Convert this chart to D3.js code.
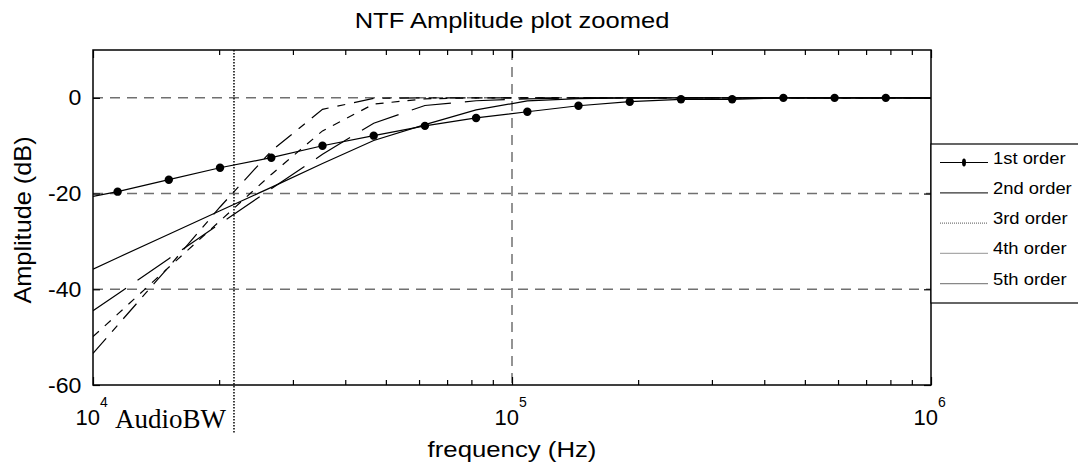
<!DOCTYPE html>
<html>
<head>
<meta charset="utf-8">
<script src="https://cdn.jsdelivr.net/npm/d3@7"></script>
<style>
body{margin:0;background:#fff;}
svg{display:block;font-family:"Liberation Sans",Arial,sans-serif;}
</style>
</head>
<body>
<div id="chart"></div>
<script>
(function(){

// frequency grid (Hz) - first and last are the plot edges
const freqs = [10000, 11450, 15170, 20100, 26640, 35300, 46770, 61970, 82100,
  108800, 144100, 191000, 253100, 335300, 444300, 588700, 780000, 1000000];

// NTF amplitude (dB) per order
const order1 = [-20.6, -19.6, -17.1, -14.6, -12.5, -10.0, -7.9, -5.85, -4.2,
  -2.9, -1.65, -0.8, -0.3, -0.3, 0, 0, 0, 0];
const order2 = [-35.8, -33.4, -28.5, -23.6, -18.7, -13.7, -8.9, -5.6, -2.5,
  -0.65, -0.15, 0, 0, 0, 0, 0, 0, 0];
const order3 = [-44.5, -41.0, -33.6, -26.3, -19.0, -11.8, -5.3, -1.6, -0.6,
  -0.2, 0, 0, 0, 0, 0, 0, 0, 0];
const order4 = [-49.9, -45.2, -35.4, -25.7, -16.0, -6.9, -1.3, -0.2, 0,
  0, 0, 0, 0, 0, 0, 0, 0, 0];
const order5 = [-53.4, -47.5, -35.3, -22.8, -11.1, -2.4, -0.1, 0, 0,
  0, 0, 0, 0, 0, 0, 0, 0, 0];

const seriesNames = ["1st order","2nd order","3rd order","4th order","5th order"];
const yTicks = [0, -20, -40, -60];
const yGrid = [0, -20, -40];
const xMajor = [1e4, 1e5, 1e6];
const xExp = [4, 5, 6];
const audioBW = 21700;

const width = 1078;
const height = 465;

const svg = d3.select("#chart")
.append("svg")
.attr("width", width)
.attr("height", height);

const x = d3.scaleLog().domain([1e4, 1e6]).range([93, 931]);
const y = d3.scaleLinear().domain([-60, 10]).range([385, 50]);

// the original export has slightly wide lettering
const wide = (px, py, sx) => `translate(${px},${py}) scale(${sx},1)`;

// -------------------
// GRID
// -------------------

svg.selectAll("line.hgrid")
.data(yGrid)
.enter()
.append("line")
.attr("class","hgrid")
.attr("x1", x(1e4)).attr("x2", x(1e6))
.attr("y1", d => y(d)).attr("y2", d => y(d))
.attr("stroke","#707070")
.attr("stroke-width",1.5)
.attr("stroke-dasharray","10,7");

svg.append("line")
.attr("x1", x(1e5)).attr("x2", x(1e5))
.attr("y1", y(10)).attr("y2", y(-60))
.attr("stroke","#707070")
.attr("stroke-width",1.5)
.attr("stroke-dasharray","10,7");

// -------------------
// TICKS
// -------------------

const minor = x.ticks().filter(d => !xMajor.includes(d));

svg.append("g")
.attr("transform",`translate(0,${y(-60)})`)
.call(d3.axisBottom(x).tickValues(minor).tickSize(-5).tickFormat(""))
.call(g => g.select(".domain").remove());
svg.append("g")
.attr("transform",`translate(0,${y(10)})`)
.call(d3.axisTop(x).tickValues(minor).tickSize(-5).tickFormat(""))
.call(g => g.select(".domain").remove());
svg.append("g")
.attr("transform",`translate(0,${y(-60)})`)
.call(d3.axisBottom(x).tickValues(xMajor).tickSize(-8).tickFormat(""))
.call(g => g.select(".domain").remove());
svg.append("g")
.attr("transform",`translate(0,${y(10)})`)
.call(d3.axisTop(x).tickValues(xMajor).tickSize(-8).tickFormat(""))
.call(g => g.select(".domain").remove());

const yAxis = svg.append("g")
.attr("transform",`translate(${x(1e4)},0)`)
.call(d3.axisLeft(y).tickValues(yTicks).tickSize(-7).tickPadding(11).tickFormat(d => String(d)))
.call(g => g.select(".domain").remove());
yAxis.selectAll("text")
.attr("font-size","22px")
.attr("font-family","'Liberation Sans',Arial,sans-serif")
.attr("fill","#000")
.attr("transform","scale(1.05,1)");

svg.append("g")
.attr("transform",`translate(${x(1e6)},0)`)
.call(d3.axisRight(y).tickValues(yTicks).tickSize(-7).tickFormat(""))
.call(g => g.select(".domain").remove());

svg.selectAll(".tick line").attr("stroke","#000").attr("stroke-width",1.2);

// x tick labels: 10 with superscript exponent
const xl = svg.selectAll("g.xlab")
.data(xMajor)
.enter()
.append("g")
.attr("class","xlab")
.attr("transform",(d)=>`translate(${x(d)},425)`);
xl.append("text")
.attr("x",7)
.attr("text-anchor","end")
.attr("font-size","22px")
.text("10");
xl.append("text")
.attr("x",7)
.attr("y",-18)
.attr("font-size","14px")
.text((d,i)=>xExp[i]);

// -------------------
// LINES
// -------------------

svg.append("clipPath").attr("id","plotclip")
.append("rect")
.attr("x", x(1e4)).attr("y", y(10))
.attr("width", x(1e6)-x(1e4)).attr("height", y(-60)-y(10));

const series = [order1, order2, order3, order4, order5];
const dashes = [null, null, "40,14", "8,8", "20,9,8,9"];

const line = d3.line()
.x((d,i) => x(freqs[i]))
.y(d => y(d));

const plot = svg.append("g").attr("clip-path","url(#plotclip)");

plot.selectAll("path.ntf")
.data(series)
.enter()
.append("path")
.attr("class","ntf")
.attr("d", d => line(d))
.attr("fill","none")
.attr("stroke","#000")
.attr("stroke-width",1.2)
.attr("stroke-dasharray",(d,i)=>dashes[i]);

// 1st order markers (not at the plot edges)
plot.selectAll("circle.m1")
.data(order1.slice(1,-1))
.enter()
.append("circle")
.attr("class","m1")
.attr("cx",(d,i)=>x(freqs[i+1]))
.attr("cy",d=>y(d))
.attr("r",4.2)
.attr("fill","#000");

// AudioBW marker
svg.append("line")
.attr("x1", x(audioBW)).attr("x2", x(audioBW))
.attr("y1", y(10)).attr("y2", 434)
.attr("stroke","#000")
.attr("stroke-width",1.5)
.attr("stroke-dasharray","1.5,1.5");

svg.append("text")
.attr("x",115)
.attr("y",428)
.attr("font-family","'Liberation Serif','Times New Roman',serif")
.attr("font-size","27px")
.text("AudioBW");

// frame
svg.append("rect")
.attr("x", x(1e4)).attr("y", y(10))
.attr("width", x(1e6)-x(1e4)).attr("height", y(-60)-y(10))
.attr("fill","none")
.attr("stroke","#000")
.attr("stroke-width",1.5);

// -------------------
// TITLE & LABELS
// -------------------

svg.append("text")
.attr("transform", wide(512, 28, 1.16))
.attr("text-anchor","middle")
.attr("font-size","22px")
.text("NTF Amplitude plot zoomed");

svg.append("text")
.attr("transform", wide(512, 457, 1.12))
.attr("text-anchor","middle")
.attr("font-size","23px")
.text("frequency (Hz)");

svg.append("text")
.attr("transform","translate(31,220) rotate(-90) scale(1.1,1)")
.attr("text-anchor","middle")
.attr("font-size","23px")
.text("Amplitude (dB)");

// -------------------
// LEGEND
// -------------------

const legend = svg.append("g");

legend.append("rect")
.attr("x",931).attr("y",144)
.attr("width",200).attr("height",159)
.attr("fill","#fff")
.attr("stroke","#000")
.attr("stroke-width",1.2);

const legColors = ["#000","#333","#777","#aaa","#888"];
const legDash = [null, null, "1,1", null, null];

const rows = legend.selectAll("g.row")
.data(seriesNames)
.enter()
.append("g")
.attr("class","row")
.attr("transform",(d,i)=>`translate(940,${162.5 + i*30.3})`);

rows.append("line")
.attr("x1",0).attr("x2",48)
.attr("stroke",(d,i)=>legColors[i])
.attr("stroke-width",1.2)
.attr("stroke-dasharray",(d,i)=>legDash[i]);

rows.append("text")
.attr("transform", wide(53, 1, 1.15))
.attr("font-size","16px")
.text(d=>d);

rows.filter((d,i)=>i===0)
.append("ellipse")
.attr("cx",24).attr("cy",0)
.attr("rx",2).attr("ry",4)
.attr("fill","#000");

})();
</script>
</body>
</html>
